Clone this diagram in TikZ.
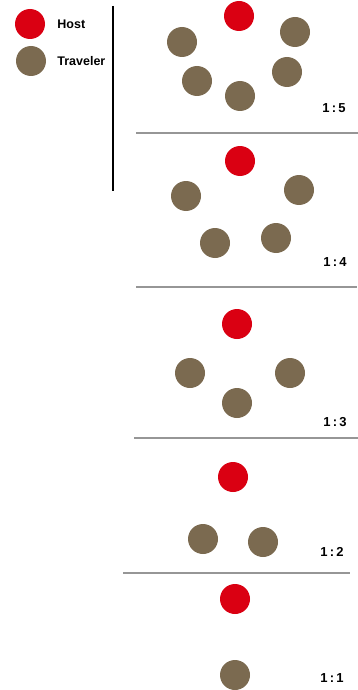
\documentclass[tikz,border=0pt]{standalone}
\usepackage{fontspec}
\setmainfont{Liberation Sans}
\usetikzlibrary{positioning}
\definecolor{hostred}{RGB}{218,0,18}
\definecolor{travbrown}{RGB}{123,106,80}
\definecolor{rulegray}{RGB}{150,150,150}

\begin{document}
\begin{tikzpicture}[x=1pt, y=-1pt,
  dot/.style={circle, minimum size=30pt, inner sep=0pt},
  host/.style={dot, fill=hostred},
  trav/.style={dot, fill=travbrown},
  lab/.style={font=\fontsize{12.5}{14}\selectfont\bfseries, inner sep=0pt, anchor=west},
  ratio/.style={font=\fontsize{13}{15}\selectfont\bfseries},
  rule/.style={draw=rulegray, line width=1.5pt}]
\useasboundingbox (0,0) rectangle (358,690);
% legend
\node[host] (lhost) at (30,24) {};
\node[trav] (ltrav) at (31,61) {};
\node[lab, right=12pt of lhost] (lhosttxt) {Host};
\node[lab, right=11pt of ltrav] (ltravtxt) {Traveler};
\coordinate (vtop) at (113,6);
\coordinate (vbot) at (113,191);
\draw[line width=2.6pt] (vtop) -- (vbot);
% 1:5
\node[host] (p5h) at (239,16) {};
\node[trav] (p5a) at (182,42) {};
\node[trav] (p5b) at (295,32) {};
\node[trav] (p5c) at (197,81) {};
\node[trav] (p5d) at (287,72) {};
\node[trav] (p5e) at (240,96) {};
\node[ratio] (r5) at (334,108) {1\,:\,5};
\coordinate (s1a) at (136,133);
\coordinate (s1b) at (358,133);
\draw[rule] (s1a) -- (s1b);
% 1:4
\node[host] (p4h) at (240,161) {};
\node[trav] (p4a) at (186,196) {};
\node[trav] (p4b) at (299,190) {};
\node[trav] (p4c) at (215,243) {};
\node[trav] (p4d) at (276,238) {};
\node[ratio] (r4) at (335,262) {1\,:\,4};
\coordinate (s2a) at (136,287);
\coordinate (s2b) at (357,287);
\draw[rule] (s2a) -- (s2b);
% 1:3
\node[host] (p3h) at (237,324) {};
\node[trav] (p3a) at (190,373) {};
\node[trav] (p3b) at (290,373) {};
\node[trav] (p3c) at (237,403) {};
\node[ratio] (r3) at (335,422) {1\,:\,3};
\coordinate (s3a) at (134,438);
\coordinate (s3b) at (358,438);
\draw[rule] (s3a) -- (s3b);
% 1:2
\node[host] (p2h) at (233,477) {};
\node[trav] (p2a) at (203,539) {};
\node[trav] (p2b) at (263,542) {};
\node[ratio] (r2) at (332,552) {1\,:\,2};
\coordinate (s4a) at (123,573);
\coordinate (s4b) at (350,573);
\draw[rule] (s4a) -- (s4b);
% 1:1
\node[host] (p1h) at (235,599) {};
\node[trav] (p1a) at (235,675) {};
\node[ratio] (r1) at (332,678) {1\,:\,1};
\end{tikzpicture}
\end{document}
